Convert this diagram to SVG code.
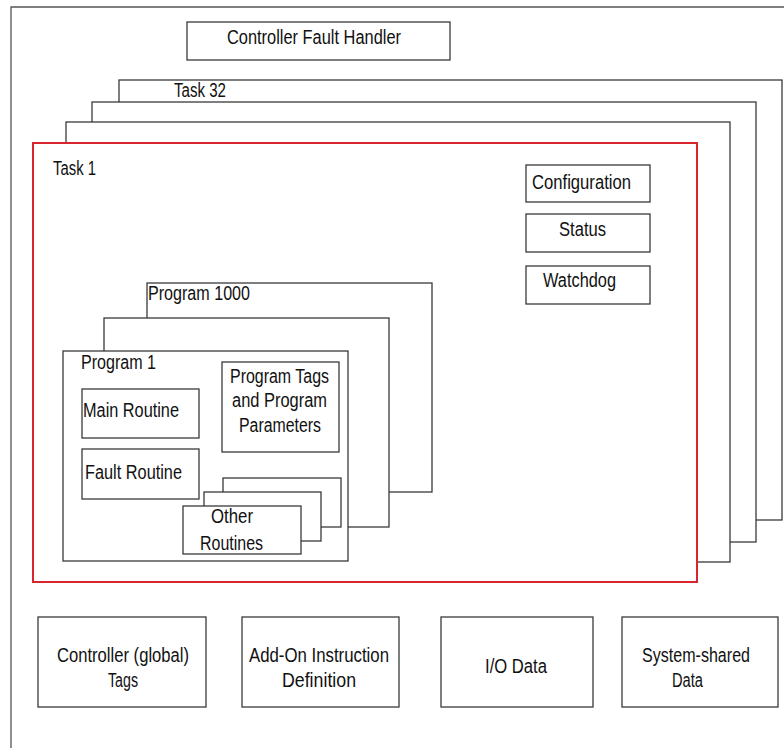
<svg xmlns="http://www.w3.org/2000/svg" width="784" height="748" viewBox="0 0 784 748">
<style>
.b{fill:#fff;stroke:#3a3a3a;stroke-width:1.3}
.r{fill:#fff;stroke:#d7262e;stroke-width:2}
.t{font-family:"Liberation Sans",Arial,sans-serif;font-size:19.5px;fill:#111}
</style>
<rect width="784" height="748" fill="#fff"/>
<g id="frame"><path d="M11,748 V7 H784" fill="none" stroke="#555" stroke-width="1.3"/></g>
<g id="cfh"><rect class="b" x="187" y="22" width="263" height="38"/>
<text class="t" x="227" y="44" textLength="174" lengthAdjust="spacingAndGlyphs" style="font-size:20px">Controller Fault Handler</text></g>
<g id="task32"><rect class="b" x="119" y="80" width="663" height="440"/>
<text class="t" x="174" y="97" textLength="52" lengthAdjust="spacingAndGlyphs">Task 32</text></g>
<g id="task3"><rect class="b" x="92" y="102" width="664" height="440"/></g>
<g id="task2"><rect class="b" x="66" y="122" width="664" height="440"/></g>
<g id="task1"><rect class="r" x="33" y="143" width="664" height="439"/>
<text class="t" x="53" y="175" textLength="43" lengthAdjust="spacingAndGlyphs">Task 1</text></g>
<g id="configuration"><rect class="b" x="526" y="165" width="124" height="37"/>
<text class="t" x="532" y="189" textLength="99" lengthAdjust="spacingAndGlyphs">Configuration</text></g>
<g id="status"><rect class="b" x="526" y="214" width="124" height="38"/>
<text class="t" x="559" y="236" textLength="47" lengthAdjust="spacingAndGlyphs">Status</text></g>
<g id="watchdog"><rect class="b" x="526" y="266" width="124" height="38"/>
<text class="t" x="543" y="287" textLength="73" lengthAdjust="spacingAndGlyphs">Watchdog</text></g>
<g id="program1000"><rect class="b" x="147" y="283" width="285" height="209"/>
<text class="t" x="148" y="300" textLength="102" lengthAdjust="spacingAndGlyphs">Program 1000</text></g>
<g id="programMid"><rect class="b" x="104" y="318" width="285" height="209"/></g>
<g id="program1"><rect class="b" x="63" y="351" width="285" height="210"/>
<text class="t" x="81" y="369" textLength="75" lengthAdjust="spacingAndGlyphs">Program 1</text></g>
<g id="mainRoutine"><rect class="b" x="82" y="389" width="117" height="49"/>
<text class="t" x="83" y="417" textLength="96" lengthAdjust="spacingAndGlyphs">Main Routine</text></g>
<g id="programTags"><rect class="b" x="222" y="362" width="117" height="90"/>
<text class="t" x="230" y="383" textLength="99" lengthAdjust="spacingAndGlyphs">Program Tags</text>
<text class="t" x="232" y="407" textLength="95" lengthAdjust="spacingAndGlyphs">and Program</text>
<text class="t" x="239" y="432" textLength="82" lengthAdjust="spacingAndGlyphs">Parameters</text></g>
<g id="faultRoutine"><rect class="b" x="82" y="449" width="117" height="50"/>
<text class="t" x="85" y="479" textLength="97" lengthAdjust="spacingAndGlyphs">Fault Routine</text></g>
<g id="otherBack"><rect class="b" x="223" y="478" width="118" height="49"/></g>
<g id="otherMid"><rect class="b" x="204" y="492" width="117" height="49"/></g>
<g id="otherRoutines"><rect class="b" x="183" y="506" width="118" height="48"/>
<text class="t" x="211" y="523" textLength="42" lengthAdjust="spacingAndGlyphs">Other</text>
<text class="t" x="200" y="550" textLength="63" lengthAdjust="spacingAndGlyphs">Routines</text></g>
<g id="controllerTags"><rect class="b" x="38" y="617" width="168" height="90"/>
<text class="t" x="57" y="662" textLength="132" lengthAdjust="spacingAndGlyphs">Controller (global)</text>
<text class="t" x="108" y="687" textLength="30" lengthAdjust="spacingAndGlyphs">Tags</text></g>
<g id="aoi"><rect class="b" x="242" y="617" width="157" height="90"/>
<text class="t" x="249" y="662" textLength="140" lengthAdjust="spacingAndGlyphs">Add-On Instruction</text>
<text class="t" x="282" y="687" textLength="74" lengthAdjust="spacingAndGlyphs">Definition</text></g>
<g id="ioData"><rect class="b" x="441" y="617" width="152" height="90"/>
<text class="t" x="485" y="673" textLength="62" lengthAdjust="spacingAndGlyphs">I/O Data</text></g>
<g id="systemShared"><rect class="b" x="622" y="617" width="156" height="90"/>
<text class="t" x="642" y="662" textLength="108" lengthAdjust="spacingAndGlyphs">System-shared</text>
<text class="t" x="672" y="687" textLength="31" lengthAdjust="spacingAndGlyphs">Data</text></g>
<g id="connectors"></g>
</svg>
